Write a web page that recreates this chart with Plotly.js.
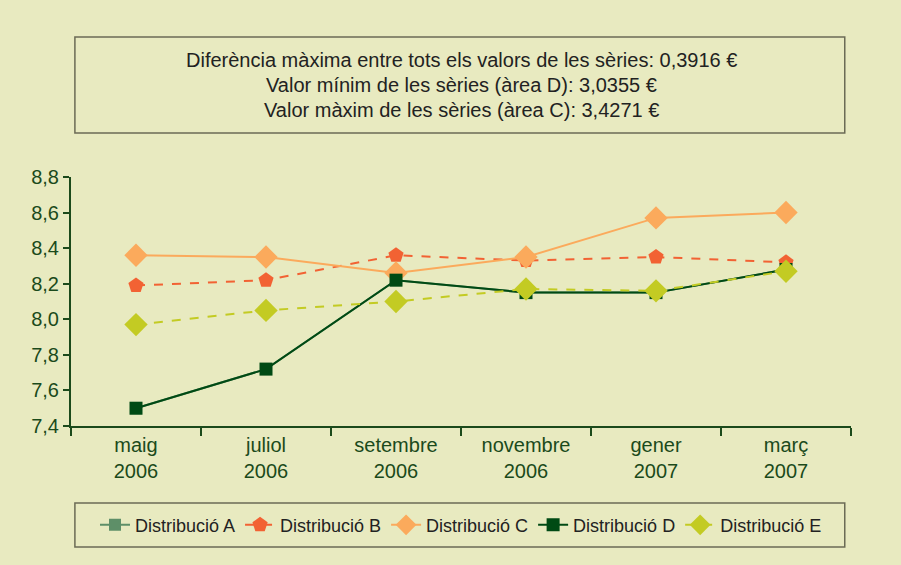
<!DOCTYPE html>
<html><head><meta charset="utf-8">
<script src="https://cdn.plot.ly/plotly-3.0.1.min.js"></script>
<style>body{margin:0;background:#e8eac0;}</style>
</head><body>
<div id="chart" style="width:901px;height:565px;"></div>
<script>
const categories = ["maig<br>2006","juliol<br>2006","setembre<br>2006","novembre<br>2006","gener<br>2007","març<br>2007"];
const seriesA = [7.50, 7.72, 8.22, 8.15, 8.15, 8.28];
const seriesB = [8.19, 8.22, 8.36, 8.33, 8.35, 8.32];
const seriesC = [8.36, 8.35, 8.26, 8.35, 8.57, 8.60];
const seriesD = [7.50, 7.72, 8.22, 8.15, 8.15, 8.28];
const seriesE = [7.97, 8.05, 8.10, 8.17, 8.16, 8.27];
const yTicks = [7.4, 7.6, 7.8, 8.0, 8.2, 8.4, 8.6, 8.8];
const yTickText = ["7,4","7,6","7,8","8,0","8,2","8,4","8,6","8,8"];
const infoLines = [
  "Diferència màxima entre tots els valors de les sèries: 0,3916 €",
  "Valor mínim de les sèries (àrea D): 3,0355 €",
  "Valor màxim de les sèries (àrea C): 3,4271 €"
];

const mk = (name, y, color, symbol, dash, size, lw) => ({
  type: 'scatter', mode: 'lines+markers', name, x: categories, y,
  line: {color, width: lw, dash},
  marker: {color, symbol, size}
});
const traces = [
  mk('Distribució A', seriesA, '#5e8f68', 'square', 'solid', 12, 2),
  mk('Distribució B', seriesB, '#f26233', 'pentagon', 'dash', 16, 2),
  mk('Distribució C', seriesC, '#fbaa5c', 'diamond', 'solid', 18, 2),
  mk('Distribució D', seriesD, '#004a14', 'square', 'solid', 13, 2),
  mk('Distribució E', seriesE, '#c3cb23', 'diamond', 'dash', 18, 2)
];

const font = "Liberation Sans, Arial, sans-serif";
const layout = {
  width: 901, height: 565,
  paper_bgcolor: '#e8eac0', plot_bgcolor: '#e8eac0',
  margin: {l: 71, r: 50, t: 177, b: 139},
  font: {family: font, color: '#1b4a1b', size: 20},
  showlegend: true,
  legend: {orientation: 'h', x: 0.5, xanchor: 'center', y: -0.398, yanchor: 'middle',
           bgcolor: 'rgba(0,0,0,0)', font: {size: 18, color: '#222222', family: font},
           itemwidth: 30, tracegroupgap: 0},
  xaxis: {
    type: 'category', range: [-0.5, 5.5], tickson: 'boundaries',
    showgrid: false, zeroline: false, showline: true, linecolor: '#1b4a1b', linewidth: 2,
    ticks: 'outside', ticklen: 8, tickwidth: 2, tickcolor: '#1b4a1b',
    tickfont: {size: 20, color: '#1b4a1b'}, fixedrange: true
  },
  yaxis: {
    range: [7.4, 8.8], tickvals: yTicks, ticktext: yTickText,
    showgrid: false, zeroline: false, showline: true, linecolor: '#1b4a1b', linewidth: 2,
    ticks: 'outside', ticklen: 6, tickwidth: 2, tickcolor: '#1b4a1b',
    tickfont: {size: 20, color: '#1b4a1b'}
  },
  shapes: [
    {type: 'rect', xref: 'paper', yref: 'paper', x0: 0.005, x1: 0.992, y0: 1.177, y1: 1.562,
     line: {color: '#6b6b55', width: 1.5}, fillcolor: 'rgba(0,0,0,0)'},
    {type: 'rect', xref: 'paper', yref: 'paper', x0: 0.005, x1: 0.992, y0: -0.486, y1: -0.309,
     line: {color: '#6b6b55', width: 1.5}, fillcolor: 'rgba(0,0,0,0)'}
  ],
  annotations: infoLines.map((t, i) => ({
    text: t, xref: 'paper', yref: 'paper', x: 0.5, y: 1.470 - i * 0.1004,
    xanchor: 'center', yanchor: 'middle', showarrow: false,
    font: {size: 20, color: '#222222', family: font}
  }))
};
Plotly.newPlot('chart', traces, layout, {displayModeBar: false, staticPlot: true});
</script>
</body></html>
